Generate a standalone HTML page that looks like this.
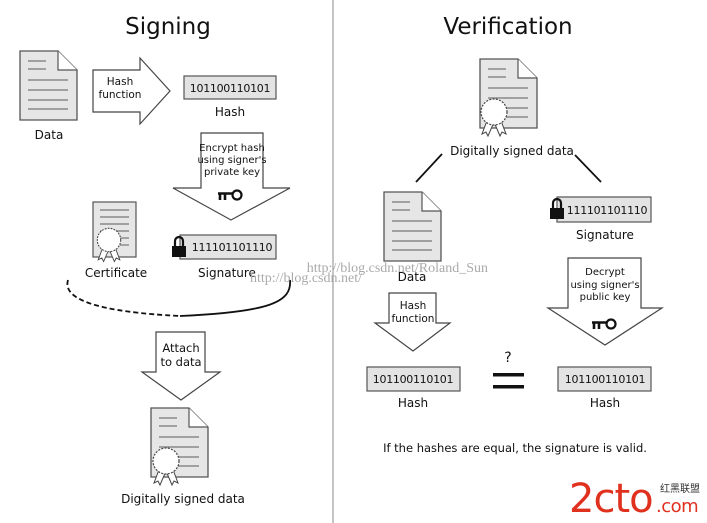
<!DOCTYPE html>
<html><head><meta charset="utf-8"><style>
html,body{margin:0;padding:0;background:#fff}
svg{display:block}
text{font-family:"DejaVu Sans","Liberation Sans",sans-serif;fill:#111}
</style></head><body>
<svg width="707" height="523" viewBox="0 0 707 523" xmlns="http://www.w3.org/2000/svg">
<defs>
<g id="doc">
<path d="M0,0 H38 L57,19 V69 H0 Z" fill="#e6e6e6" stroke="#555" stroke-width="1.3"/>
<path d="M38,0 V19 H57" fill="#fff" stroke="#555" stroke-width="1.2"/>
<g stroke="#777" stroke-width="1.2"><line x1="8" y1="10" x2="26" y2="10"/><line x1="8" y1="18" x2="26" y2="18"/><line x1="8" y1="29" x2="48" y2="29"/><line x1="8" y1="39" x2="48" y2="39"/><line x1="8" y1="49" x2="48" y2="49"/><line x1="8" y1="58" x2="48" y2="58"/></g>
</g>
<g id="seal">
<path d="M7,6 L1,22 L5,20 L7,24 L13,10 Z M19,6 L25,22 L21,20 L19,24 L13,10 Z" fill="#fff" stroke="#444" stroke-width="1"/>
<circle cx="13" cy="0" r="13" fill="#fff" stroke="#444" stroke-width="1.2" stroke-dasharray="2 1.3"/>
<circle cx="13" cy="0" r="10" fill="#fff"/>
</g>
<g id="key"><circle cx="11" cy="0" r="4.5" fill="none" stroke="#111" stroke-width="2.2"/><path d="M-8,-1.5 H7 M-6,-1.5 V5 M-1,-1.5 V5" stroke="#111" stroke-width="2.6" fill="none"/></g>
<g id="lock"><path d="M3,9 V4 A4,4 0 0 1 11,4 V9" fill="none" stroke="#111" stroke-width="2.2"/><rect x="0" y="9" width="14" height="11" fill="#111"/></g>
</defs>

<line x1="333" y1="0" x2="333" y2="523" stroke="#888" stroke-width="1"/>
<text x="168" y="34" font-size="23" text-anchor="middle">Signing</text>
<text x="508" y="34" font-size="23" text-anchor="middle">Verification</text>

<!-- LEFT -->
<use href="#doc" x="20" y="51"/>
<text x="49" y="139" font-size="12" text-anchor="middle">Data</text>
<path d="M93,70 H140 V58 L170,91 L140,124 V112 H93 Z" fill="#fff" stroke="#444" stroke-width="1.2"/>
<text x="120" y="85" font-size="10.5" text-anchor="middle">Hash</text>
<text x="120" y="98" font-size="10.5" text-anchor="middle">function</text>
<rect x="184" y="76" width="92" height="23" fill="#e3e3e3" stroke="#555" stroke-width="1.2"/>
<text x="230" y="92" font-size="11" text-anchor="middle" letter-spacing="-0.3">101100110101</text>
<text x="230" y="116" font-size="12" text-anchor="middle">Hash</text>
<path d="M201,133 H263 V188 H290 L231,220 L173,188 H201 Z" fill="#fff" stroke="#444" stroke-width="1.2"/>
<text x="232" y="151" font-size="10" text-anchor="middle">Encrypt hash</text>
<text x="232" y="163" font-size="10" text-anchor="middle">using signer's</text>
<text x="232" y="175" font-size="10" text-anchor="middle">private key</text>
<use href="#key" x="226" y="195"/>
<rect x="93" y="202" width="43" height="55" fill="#e6e6e6" stroke="#555" stroke-width="1.2"/>
<g stroke="#777" stroke-width="1.2"><line x1="100" y1="210" x2="129" y2="210"/><line x1="100" y1="217" x2="129" y2="217"/><line x1="100" y1="224" x2="129" y2="224"/><line x1="100" y1="231" x2="129" y2="231"/><line x1="120" y1="238" x2="129" y2="238"/><line x1="120" y1="245" x2="129" y2="245"/></g>
<use href="#seal" x="97" y="240" transform="translate(10 24) scale(0.9)"/>
<text x="116" y="277" font-size="12" text-anchor="middle">Certificate</text>
<rect x="180" y="235" width="96" height="24" fill="#e3e3e3" stroke="#555" stroke-width="1.2"/>
<use href="#lock" x="172" y="237"/>
<text x="232" y="251" font-size="11" text-anchor="middle" letter-spacing="-0.3">111101101110</text>
<text x="227" y="277" font-size="12" text-anchor="middle">Signature</text>
<text x="488" y="272" font-size="14" style="font-family:'Liberation Serif',serif;fill:#aaa" text-anchor="end">http://blog.csdn.net/Roland_Sun</text>
<path d="M68,280 C62,300 100,312 180,316" fill="none" stroke="#111" stroke-width="1.8" stroke-dasharray="5 3"/>
<path d="M180,316 C270,312 292,302 290,280" fill="none" stroke="#111" stroke-width="1.8"/>
<path d="M156,332 H205 V372 H220 L181,400 L142,372 H156 Z" fill="#fff" stroke="#444" stroke-width="1.2"/>
<text x="181" y="352" font-size="11.5" text-anchor="middle">Attach</text>
<text x="181" y="366" font-size="11.5" text-anchor="middle">to data</text>
<use href="#doc" x="151" y="408"/>
<use href="#seal" x="153" y="461"/>
<text x="183" y="503" font-size="12" text-anchor="middle">Digitally signed data</text>

<!-- RIGHT -->
<use href="#doc" x="480" y="59"/>
<use href="#seal" x="481" y="112"/>
<text x="512" y="155" font-size="12" text-anchor="middle">Digitally signed data</text>
<line x1="416" y1="182" x2="442" y2="154" stroke="#111" stroke-width="1.8"/>
<line x1="575" y1="155" x2="601" y2="182" stroke="#111" stroke-width="1.8"/>
<use href="#doc" x="384" y="192"/>
<text x="412" y="281" font-size="12" text-anchor="middle">Data</text>
<path d="M389,293 H436 V323 H450 L413,351 L375,323 H389 Z" fill="#fff" stroke="#444" stroke-width="1.2"/>
<text x="413" y="309" font-size="10.5" text-anchor="middle">Hash</text>
<text x="413" y="322" font-size="10.5" text-anchor="middle">function</text>
<rect x="557" y="197" width="94" height="25" fill="#e3e3e3" stroke="#555" stroke-width="1.2"/>
<use href="#lock" x="550" y="199"/>
<text x="607" y="214" font-size="11" text-anchor="middle" letter-spacing="-0.3">111101101110</text>
<text x="605" y="239" font-size="12" text-anchor="middle">Signature</text>
<path d="M568,258 H641 V308 H662 L605,345 L548,308 H568 Z" fill="#fff" stroke="#444" stroke-width="1.2"/>
<text x="605" y="275" font-size="10" text-anchor="middle">Decrypt</text>
<text x="605" y="288" font-size="10" text-anchor="middle">using signer's</text>
<text x="605" y="300" font-size="10" text-anchor="middle">public key</text>
<use href="#key" x="600" y="324"/>
<text x="250" y="282" font-size="14" style="font-family:'Liberation Serif',serif;fill:#aaa">http://blog.csdn.net/</text>
<text x="508" y="362" font-size="14" text-anchor="middle">?</text>
<rect x="493" y="373" width="31" height="3.5" fill="#111"/>
<rect x="493" y="385" width="31" height="3.5" fill="#111"/>
<rect x="367" y="367" width="93" height="24" fill="#e3e3e3" stroke="#555" stroke-width="1.2"/>
<text x="413" y="383" font-size="11" text-anchor="middle" letter-spacing="-0.3">101100110101</text>
<text x="413" y="407" font-size="12" text-anchor="middle">Hash</text>
<rect x="558" y="367" width="93" height="24" fill="#e3e3e3" stroke="#555" stroke-width="1.2"/>
<text x="605" y="383" font-size="11" text-anchor="middle" letter-spacing="-0.3">101100110101</text>
<text x="605" y="407" font-size="12" text-anchor="middle">Hash</text>
<text x="515" y="452" font-size="11.5" text-anchor="middle">If the hashes are equal, the signature is valid.</text>

<!-- logo -->
<text x="569" y="512" font-size="40" style="fill:#e0301e;font-family:'DejaVu Sans',sans-serif" letter-spacing="-1">2cto</text>
<text x="660" y="492" font-size="10" style="fill:#333;font-family:'Noto Sans CJK SC',sans-serif">红黑联盟</text>
<text x="656" y="512" font-size="18" style="fill:#e0301e;font-family:'DejaVu Sans',sans-serif" letter-spacing="-0.5">.com</text>
</svg>
</body></html>
